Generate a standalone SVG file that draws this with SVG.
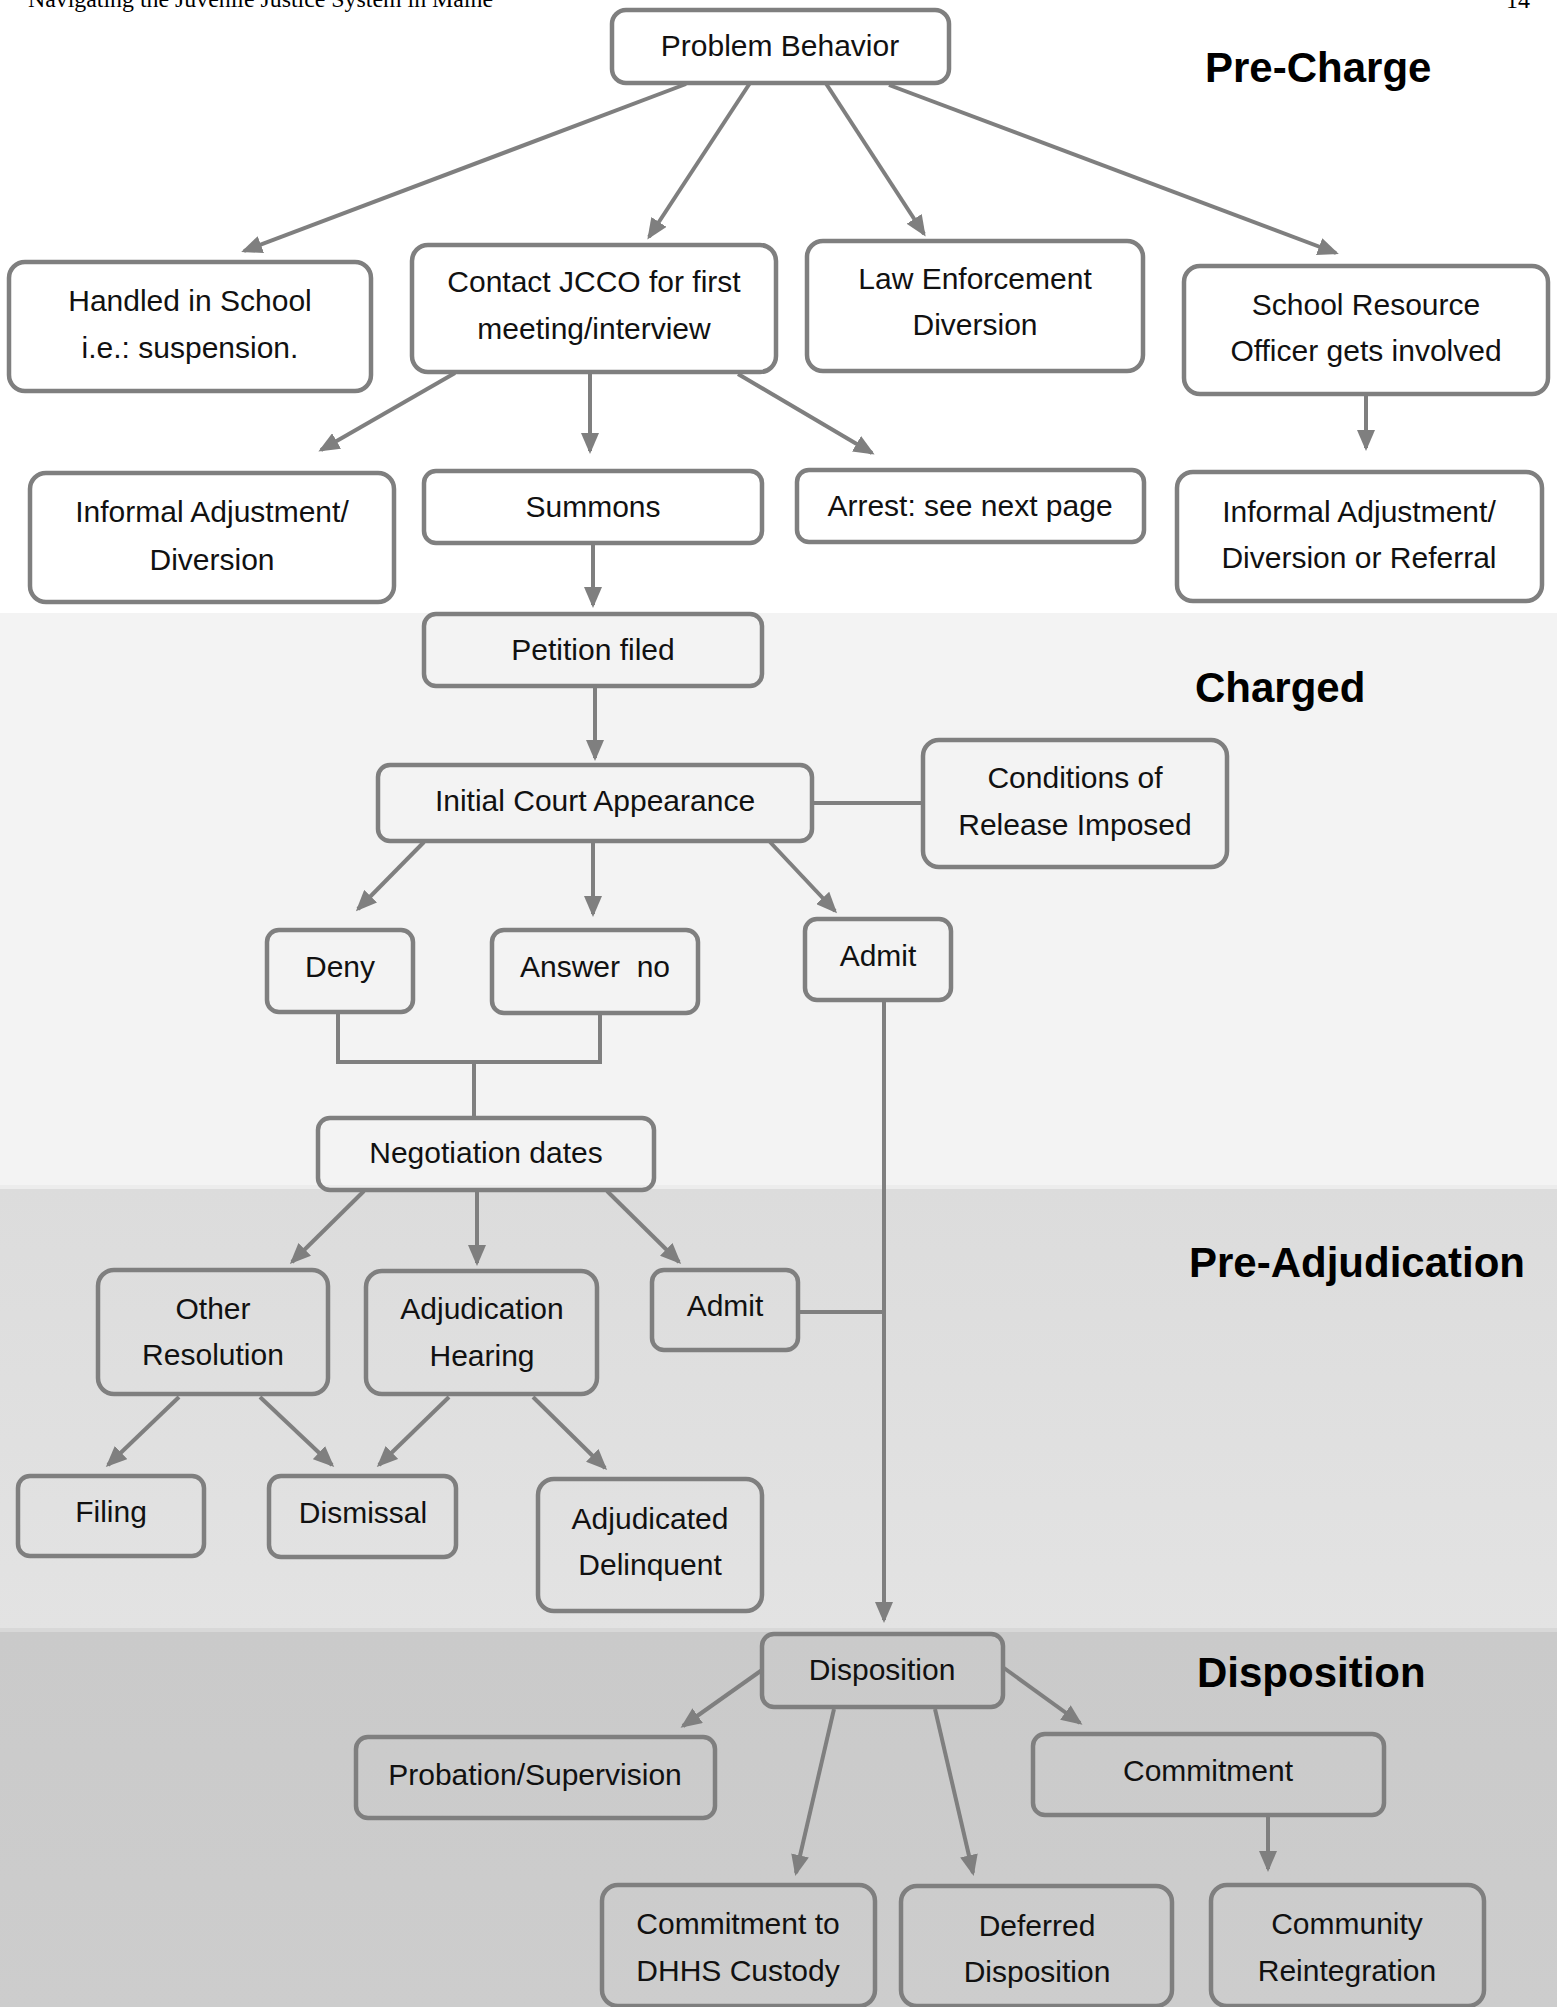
<svg xmlns="http://www.w3.org/2000/svg" width="1557" height="2007" viewBox="0 0 1557 2007">
<defs>
<marker id="arr" markerUnits="userSpaceOnUse" markerWidth="22" markerHeight="18" refX="18" refY="9" orient="auto">
<path d="M0,0 L21,9 L0,18 z" fill="#7f7f7f"/>
</marker>
<linearGradient id="gPre" x1="0" y1="0" x2="0" y2="1">
<stop offset="0" stop-color="#dcdcdc"/>
<stop offset="1" stop-color="#e3e3e3"/>
</linearGradient>
<linearGradient id="gDis" x1="0" y1="0" x2="0" y2="1">
<stop offset="0" stop-color="#cacaca"/>
<stop offset="1" stop-color="#cdcdcd"/>
</linearGradient>
<style>
.node rect{fill:none;stroke:#7f7f7f;stroke-width:4.5}
.node text{font-family:"Liberation Sans",Arial,sans-serif;font-size:30px;fill:#111;text-anchor:middle}
.sec{font-family:"Liberation Sans",Arial,sans-serif;font-size:42px;font-weight:bold;fill:#000}
.hdr{font-family:"Liberation Serif","Times New Roman",serif;font-size:24px;fill:#000}
#connectors line,#connectors polyline{stroke:#7f7f7f;stroke-width:4;fill:none}
.a{marker-end:url(#arr)}
</style>
</defs>
<rect x="0" y="0" width="1557" height="2007" fill="#ffffff"/>
<rect x="0" y="613" width="1557" height="577" fill="#f3f3f3"/>
<rect x="0" y="1185" width="1557" height="4" fill="#ececec"/>
<rect x="0" y="1189" width="1557" height="443" fill="url(#gPre)"/>
<rect x="0" y="1628" width="1557" height="4" fill="#d8d8d8"/>
<rect x="0" y="1632" width="1557" height="375" fill="url(#gDis)"/>
<text class="hdr" x="28" y="7" textLength="465" lengthAdjust="spacingAndGlyphs">Navigating the Juvenile Justice System in Maine</text>
<text class="hdr" x="1506" y="8">14</text>
<text class="sec" x="1205" y="82">Pre-Charge</text>
<text class="sec" x="1195" y="702">Charged</text>
<text class="sec" x="1189" y="1277">Pre-Adjudication</text>
<text class="sec" x="1197" y="1687">Disposition</text>
<g id="connectors">
<line class="a" x1="686" y1="84" x2="244" y2="251"/>
<line class="a" x1="750" y1="83" x2="649" y2="237"/>
<line class="a" x1="825" y1="82" x2="924" y2="234"/>
<line class="a" x1="889" y1="85" x2="1336" y2="253"/>
<line class="a" x1="455" y1="373" x2="321" y2="450"/>
<line class="a" x1="590" y1="373" x2="590" y2="451"/>
<line class="a" x1="738" y1="374" x2="872" y2="453"/>
<line class="a" x1="1366" y1="395" x2="1366" y2="448"/>
<line class="a" x1="593" y1="543" x2="593" y2="605"/>
<line class="a" x1="595" y1="686" x2="595" y2="758"/>
<line x1="812" y1="803" x2="923" y2="803"/>
<line class="a" x1="424" y1="842" x2="358" y2="909"/>
<line class="a" x1="593" y1="841" x2="593" y2="914"/>
<line class="a" x1="770" y1="842" x2="835" y2="911"/>
<polyline points="338,1012 338,1062 600,1062 600,1013"/>
<line x1="474" y1="1062" x2="474" y2="1118"/>
<line class="a" x1="884" y1="1000" x2="884" y2="1620"/>
<line x1="798" y1="1312" x2="884" y2="1312"/>
<line class="a" x1="364" y1="1191" x2="292" y2="1262"/>
<line class="a" x1="477" y1="1190" x2="477" y2="1263"/>
<line class="a" x1="607" y1="1191" x2="679" y2="1262"/>
<line class="a" x1="179" y1="1397" x2="108" y2="1465"/>
<line class="a" x1="260" y1="1397" x2="332" y2="1465"/>
<line class="a" x1="449" y1="1397" x2="379" y2="1465"/>
<line class="a" x1="533" y1="1397" x2="605" y2="1468"/>
<line class="a" x1="762" y1="1670" x2="683" y2="1726"/>
<line class="a" x1="834" y1="1709" x2="796" y2="1873"/>
<line class="a" x1="935" y1="1709" x2="973" y2="1873"/>
<line class="a" x1="1004" y1="1668" x2="1080" y2="1723"/>
<line class="a" x1="1268" y1="1816" x2="1268" y2="1869"/>
</g>
<g id="n-problem" class="node"><rect x="612" y="10" width="337" height="73" rx="14"/><text x="780" y="56">Problem Behavior</text></g>
<g id="n-school" class="node"><rect x="9" y="262" width="362" height="129" rx="16"/><text x="190" y="311">Handled in School</text><text x="190" y="358">i.e.: suspension.</text></g>
<g id="n-jcco" class="node"><rect x="412" y="245" width="364" height="127" rx="16"/><text x="594" y="292">Contact JCCO for first</text><text x="594" y="339">meeting/interview</text></g>
<g id="n-law" class="node"><rect x="807" y="241" width="336" height="130" rx="16"/><text x="975" y="289">Law Enforcement</text><text x="975" y="335">Diversion</text></g>
<g id="n-sro" class="node"><rect x="1184" y="266" width="364" height="128" rx="16"/><text x="1366" y="315">School Resource</text><text x="1366" y="361">Officer gets involved</text></g>
<g id="n-informal1" class="node"><rect x="30" y="473" width="364" height="129" rx="16"/><text x="212" y="522">Informal Adjustment/</text><text x="212" y="570">Diversion</text></g>
<g id="n-summons" class="node"><rect x="424" y="471" width="338" height="72" rx="12"/><text x="593" y="517">Summons</text></g>
<g id="n-arrest" class="node"><rect x="797" y="470" width="347" height="72" rx="12"/><text x="970" y="516">Arrest: see next page</text></g>
<g id="n-informal2" class="node"><rect x="1177" y="472" width="365" height="129" rx="16"/><text x="1359" y="522">Informal Adjustment/</text><text x="1359" y="568">Diversion or Referral</text></g>
<g id="n-petition" class="node"><rect x="424" y="614" width="338" height="72" rx="12"/><text x="593" y="660">Petition filed</text></g>
<g id="n-initial" class="node"><rect x="378" y="765" width="434" height="76" rx="12"/><text x="595" y="811">Initial Court Appearance</text></g>
<g id="n-conditions" class="node"><rect x="923" y="740" width="304" height="127" rx="16"/><text x="1075" y="788">Conditions of</text><text x="1075" y="835">Release Imposed</text></g>
<g id="n-deny" class="node"><rect x="267" y="930" width="146" height="82" rx="12"/><text x="340" y="977">Deny</text></g>
<g id="n-answer" class="node"><rect x="492" y="930" width="206" height="83" rx="12"/><text x="595" y="977" xml:space="preserve">Answer  no</text></g>
<g id="n-admit1" class="node"><rect x="805" y="919" width="146" height="81" rx="12"/><text x="878" y="966">Admit</text></g>
<g id="n-negotiation" class="node"><rect x="318" y="1118" width="336" height="72" rx="12"/><text x="486" y="1163">Negotiation dates</text></g>
<g id="n-other" class="node"><rect x="98" y="1270" width="230" height="124" rx="16"/><text x="213" y="1319">Other</text><text x="213" y="1365">Resolution</text></g>
<g id="n-hearing" class="node"><rect x="366" y="1271" width="231" height="123" rx="16"/><text x="482" y="1319">Adjudication</text><text x="482" y="1366">Hearing</text></g>
<g id="n-admit2" class="node"><rect x="652" y="1270" width="146" height="80" rx="12"/><text x="725" y="1316">Admit</text></g>
<g id="n-filing" class="node"><rect x="18" y="1476" width="186" height="80" rx="12"/><text x="111" y="1522">Filing</text></g>
<g id="n-dismissal" class="node"><rect x="269" y="1476" width="187" height="81" rx="12"/><text x="363" y="1523">Dismissal</text></g>
<g id="n-delinquent" class="node"><rect x="538" y="1479" width="224" height="132" rx="16"/><text x="650" y="1529">Adjudicated</text><text x="650" y="1575">Delinquent</text></g>
<g id="n-disposition" class="node"><rect x="762" y="1634" width="241" height="73" rx="12"/><text x="882" y="1680">Disposition</text></g>
<g id="n-probation" class="node"><rect x="356" y="1737" width="359" height="81" rx="12"/><text x="535" y="1785">Probation/Supervision</text></g>
<g id="n-commitment" class="node"><rect x="1033" y="1734" width="351" height="81" rx="12"/><text x="1208" y="1781">Commitment</text></g>
<g id="n-dhhs" class="node"><rect x="602" y="1885" width="273" height="121" rx="16"/><text x="738" y="1934">Commitment to</text><text x="738" y="1981">DHHS Custody</text></g>
<g id="n-deferred" class="node"><rect x="901" y="1886" width="271" height="120" rx="16"/><text x="1037" y="1936">Deferred</text><text x="1037" y="1982">Disposition</text></g>
<g id="n-community" class="node"><rect x="1211" y="1885" width="273" height="121" rx="16"/><text x="1347" y="1934">Community</text><text x="1347" y="1981">Reintegration</text></g>
</svg>
